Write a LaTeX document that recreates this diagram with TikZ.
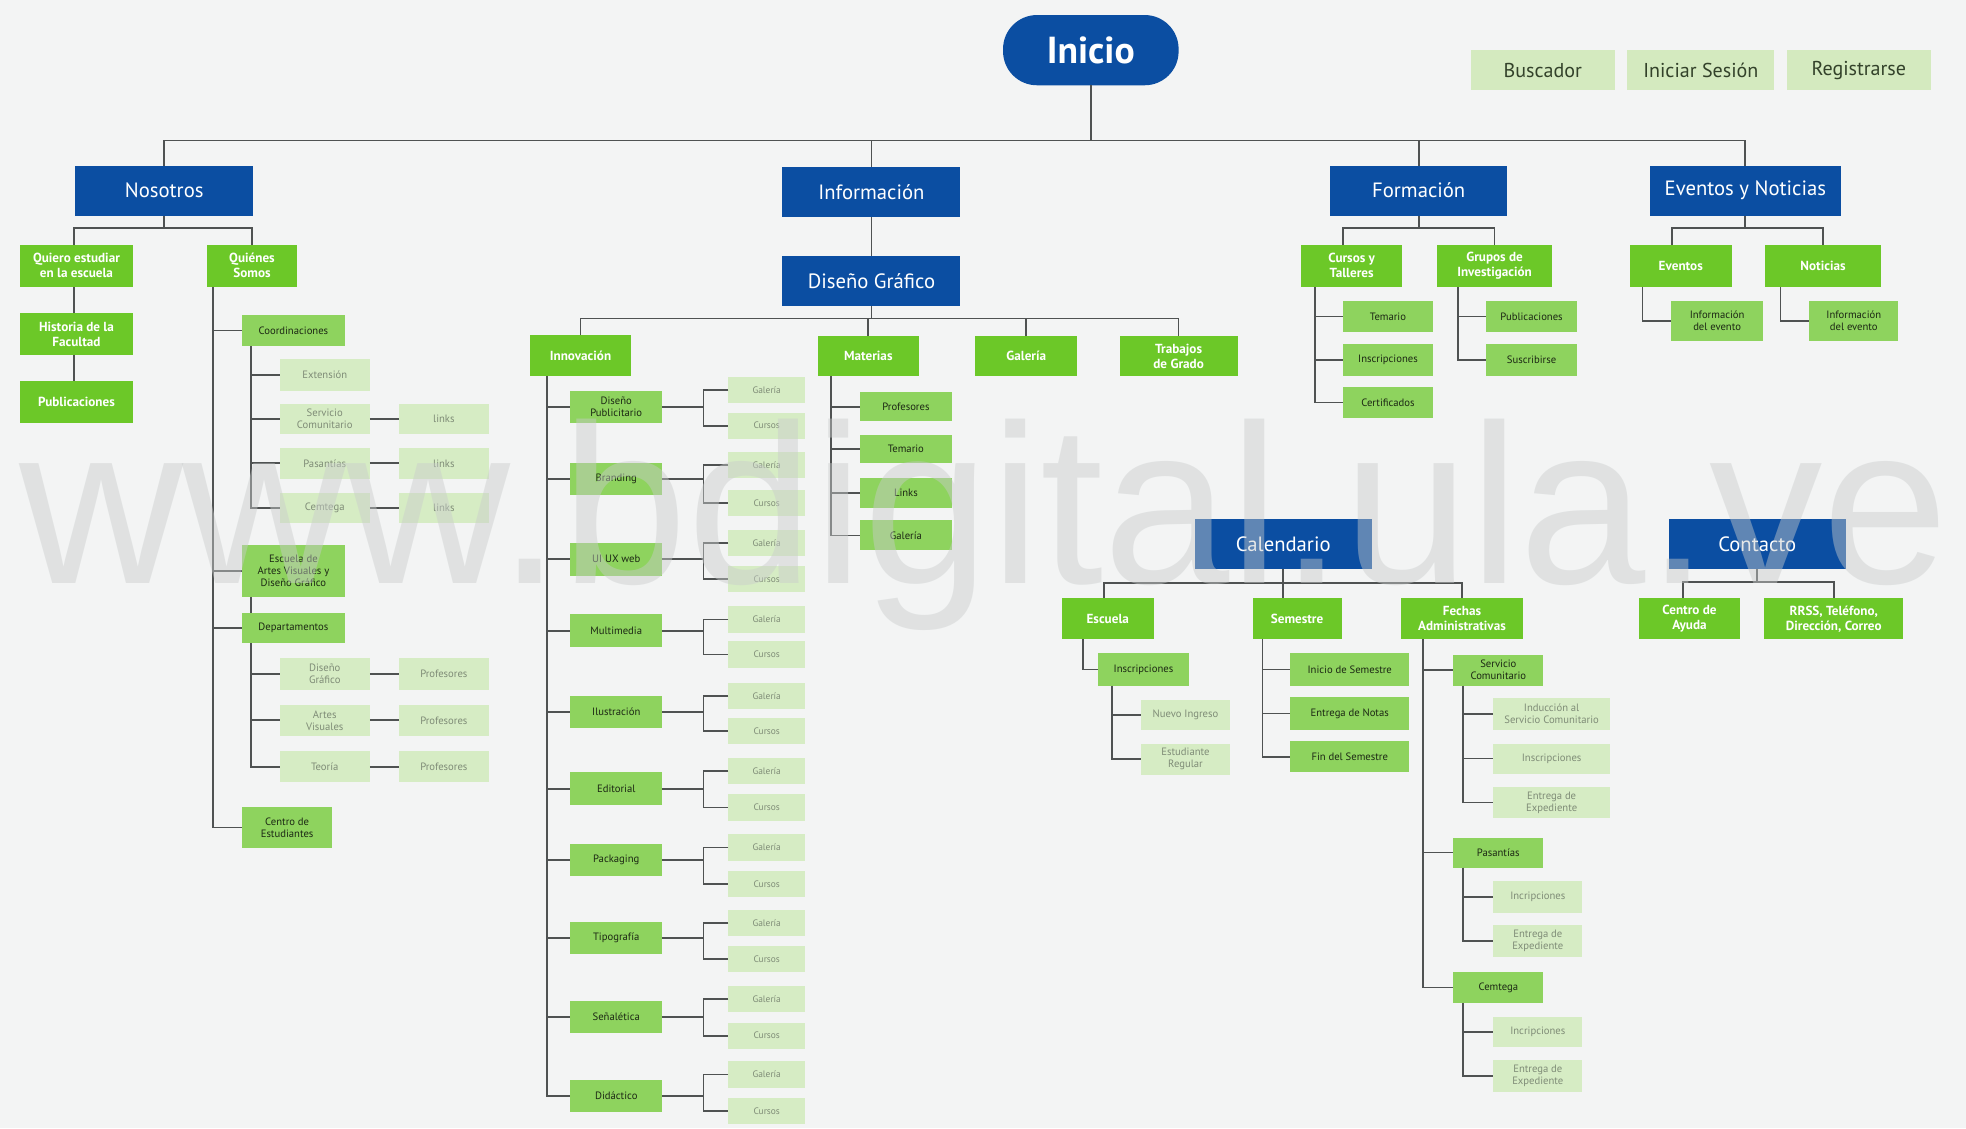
\documentclass[tikz,border=0pt]{standalone}
\usepackage{fontspec}
\setmainfont{PT Sans}
\newfontfamily\wmfont{Liberation Sans}
\definecolor{bgC}{HTML}{F3F4F4}
\definecolor{blueC}{HTML}{0B4EA2}
\definecolor{gAC}{HTML}{6CC828}
\definecolor{gBC}{HTML}{8ED35E}
\definecolor{gCC}{HTML}{D6ECC4}
\definecolor{txB}{HTML}{1C2814}
\definecolor{txC}{HTML}{7F8C77}
\definecolor{btnC}{HTML}{D4EABF}
\definecolor{btnT}{HTML}{33422A}
\definecolor{lineC}{HTML}{4F5252}
\definecolor{wmC}{HTML}{C9CCCC}
\newcommand{\mybox}[7]{\node[#2, minimum width={((#5)-(#3))*1pt}, minimum height={((#6)-(#4))*1pt}] (#1) at ({((#3)+(#5))/2},{((#4)+(#6))/2}) {#7};}
\tikzset{
  ln/.style={draw=lineC, line width=1.4pt},
  basebox/.style={inner sep=1pt, outer sep=0pt, align=center},
  bluebox/.style={basebox, fill=blueC, text=white, font=\fontsize{16.5}{18}\selectfont},
  gA/.style={basebox, fill=gAC, text=white, font=\bfseries\fontsize{10.5}{12}\selectfont},
  gB/.style={basebox, fill=gBC, text=txB, font=\fontsize{8.5}{9.5}\selectfont},
  gC/.style={basebox, fill=gCC, text=txC, font=\fontsize{8.5}{9.5}\selectfont},
  galbox/.style={basebox, fill=gCC, text=txC, font=\fontsize{7.5}{8.5}\selectfont},
  btnbox/.style={basebox, fill=btnC, text=btnT, font=\fontsize{16}{18}\selectfont},
}
\begin{document}
\begin{tikzpicture}[x=1pt,y=-1pt]
\fill[bgC] (0,0) rectangle (1568,900);
\useasboundingbox (0,0) rectangle (1568,900);

% top
\node[basebox, fill=blueC, text=white, rounded corners=27pt, minimum width=140pt, minimum height=56pt, font=\bfseries\fontsize{30}{32}\selectfont] (inicio) at (870,40) {Inicio};
\mybox{buscador}{btnbox}{1173}{40}{1288}{72}{Buscador}
\mybox{iniciar}{btnbox}{1298}{40}{1415}{72}{Iniciar Sesión}
\mybox{registrar}{btnbox}{1425}{40}{1540}{72}{Registrarse}

% level 1
\mybox{nosotros}{bluebox}{60}{132}{202}{172}{Nosotros}
\mybox{informacion}{bluebox}{624}{133}{766}{173}{Información}
\mybox{formacion}{bluebox}{1061}{132}{1202}{172}{Formación}
\mybox{eventos}{bluebox}{1316}{132}{1468}{172}{Eventos y Noticias}
\mybox{disenoG}{bluebox}{624}{204}{766}{244}{Diseño Gráfico}
\mybox{calendario}{bluebox}{953}{414}{1094}{454}{Calendario}
\mybox{contacto}{bluebox}{1331}{414}{1472}{454}{Contacto}

% Nosotros subtree
\mybox{quiero}{gA}{16}{195}{106}{229}{Quiero estudiar\\en la escuela}
\mybox{historia}{gA}{16}{250}{106}{283}{Historia de la\\Facultad}
\mybox{publicaciones}{gA}{16}{304}{106}{337}{Publicaciones}
\mybox{quienes}{gA}{165}{195}{237}{229}{Quiénes\\Somos}
\mybox{coord}{gB}{193}{251}{275}{276}{Coordinaciones}
\mybox{ext}{gC}{223}{286}{295}{312}{Extensión}
\mybox{servc}{gC}{223}{322}{295}{346}{Servicio\\Comunitario}
\mybox{pas}{gC}{223}{357}{295}{382}{Pasantías}
\mybox{cem}{gC}{223}{393}{295}{417}{Cemtega}
\mybox{linkA}{gC}{318}{322}{390}{346}{links}
\mybox{linkB}{gC}{318}{357}{390}{382}{links}
\mybox{linkC}{gC}{318}{393}{390}{417}{links}
\mybox{escAV}{gB}{193}{435}{275}{476}{Escuela de\\Artes Visuales y\\Diseño Gráfico}
\mybox{dep}{gB}{193}{489}{275}{513}{Departamentos}
\mybox{dgd}{gC}{223}{525}{295}{550}{Diseño\\Gráfico}
\mybox{avd}{gC}{223}{562}{295}{587}{Artes\\Visuales}
\mybox{teo}{gC}{223}{599}{295}{624}{Teoría}
\mybox{profA}{gC}{318}{525}{390}{550}{Profesores}
\mybox{profB}{gC}{318}{562}{390}{587}{Profesores}
\mybox{profC}{gC}{318}{599}{390}{624}{Profesores}
\mybox{centroE}{gB}{193}{644}{265}{676}{Centro de\\Estudiantes}

% Diseño Gráfico subtree
\mybox{innov}{gA}{423}{267}{503}{300}{Innovación}
\mybox{materias}{gA}{652}{268}{733}{300}{Materias}
\mybox{galeria}{gA}{778}{268}{859}{300}{Galería}
\mybox{trab}{gA}{893}{268}{987}{300}{Trabajos\\de Grado}
\mybox{mprof}{gB}{686}{313}{759}{336}{Profesores}
\mybox{mtem}{gB}{686}{347}{759}{369}{Temario}
\mybox{mlinks}{gB}{686}{381}{759}{405}{Links}
\mybox{mgal}{gB}{686}{415}{759}{439}{Galería}

% Formación subtree
\mybox{cursosT}{gA}{1038}{195}{1118}{229}{Cursos y\\Talleres}
\mybox{grupos}{gA}{1146}{195}{1238}{229}{Grupos de\\Investigación}
\mybox{ftem}{gB}{1071}{240}{1143}{265}{Temario}
\mybox{fins}{gB}{1071}{274}{1143}{300}{Inscripciones}
\mybox{fcert}{gB}{1071}{309}{1143}{333}{Certificados}
\mybox{gpub}{gB}{1185}{240}{1258}{265}{Publicaciones}
\mybox{gsus}{gB}{1185}{274}{1258}{300}{Suscribirse}

% Eventos subtree
\mybox{ev}{gA}{1300}{195}{1381}{229}{Eventos}
\mybox{noti}{gA}{1408}{195}{1500}{229}{Noticias}
\mybox{ievA}{gB}{1333}{240}{1406}{272}{Información\\del evento}
\mybox{ievB}{gB}{1443}{240}{1514}{272}{Información\\del evento}

% Calendario subtree
\mybox{escuela}{gA}{847}{477}{920}{510}{Escuela}
\mybox{semestre}{gA}{999}{477}{1070}{510}{Semestre}
\mybox{fechas}{gA}{1117}{477}{1215}{510}{Fechas\\Administrativas}
\mybox{inscE}{gB}{876}{521}{948}{547}{Inscripciones}
\mybox{nuevo}{gC}{910}{558}{981}{582}{Nuevo Ingreso}
\mybox{estud}{gC}{910}{593}{981}{618}{Estudiante\\Regular}
\mybox{inis}{gB}{1029}{521}{1124}{547}{Inicio de Semestre}
\mybox{entN}{gB}{1029}{556}{1124}{582}{Entrega de Notas}
\mybox{finS}{gB}{1029}{591}{1124}{616}{Fin del Semestre}
\mybox{servD}{gB}{1159}{522}{1231}{547}{Servicio\\Comunitario}
\mybox{ind}{gC}{1191}{557}{1284}{582}{Inducción al\\Servicio Comunitario}
\mybox{inscF}{gC}{1191}{593}{1284}{617}{Inscripciones}
\mybox{entrA}{gC}{1191}{628}{1284}{652}{Entrega de\\Expediente}
\mybox{pasD}{gB}{1159}{668}{1231}{692}{Pasantías}
\mybox{incrA}{gC}{1191}{703}{1262}{728}{Incripciones}
\mybox{entrB}{gC}{1191}{738}{1262}{763}{Entrega de\\Expediente}
\mybox{cemD}{gB}{1159}{775}{1231}{800}{Cemtega}
\mybox{incrB}{gC}{1191}{811}{1262}{835}{Incripciones}
\mybox{entrC}{gC}{1191}{845}{1262}{871}{Entrega de\\Expediente}

% Contacto subtree
\mybox{centroA}{gA}{1307}{477}{1388}{510}{Centro de\\Ayuda}
\mybox{rrss}{gA}{1407}{477}{1518}{510}{RRSS, Teléfono,\\Dirección, Correo}

% ---------- connectors ----------
\coordinate (mbus) at ([yshift=-44pt]inicio.south);
\draw[ln] (inicio.south) -- (mbus);
\draw[ln] (nosotros.north) |- (mbus) -| (eventos.north);
\draw[ln] (informacion.north) -- (informacion.north |- mbus);
\draw[ln] (formacion.north) -- (formacion.north |- mbus);

% Nosotros
\coordinate (nbus) at ([yshift=-10pt]nosotros.south);
\draw[ln] (nosotros.south) -- (nbus);
\draw[ln] ([xshift=-2pt]quiero.north) |- (nbus) -| (quienes.north);
\draw[ln] ([xshift=-2pt]quiero.south) -- ([xshift=-2pt]historia.north);
\draw[ln] ([xshift=-2pt]historia.south) -- ([xshift=-2pt]publicaciones.north);
\foreach \c in {coord,escAV,dep,centroE} \draw[ln] ([xshift=5pt]quienes.south west) |- (\c.west);
\foreach \c in {ext,servc,pas,cem} \draw[ln] ([xshift=7pt]coord.south west) |- (\c.west);
\draw[ln] (servc.east) -- (linkA.west);
\draw[ln] (pas.east) -- (linkB.west);
\draw[ln] (cem.east) -- (linkC.west);
\draw[ln] ([xshift=7pt]escAV.south west) -- ([xshift=7pt]dep.north west);
\foreach \c in {dgd,avd,teo} \draw[ln] ([xshift=7pt]dep.south west) |- (\c.west);
\draw[ln] (dgd.east) -- (profA.west);
\draw[ln] (avd.east) -- (profB.west);
\draw[ln] (teo.east) -- (profC.west);

% Información
\draw[ln] (informacion.south) -- (disenoG.north);
\coordinate (dbus) at ([yshift=-10pt]disenoG.south);
\draw[ln] (disenoG.south) -- (dbus);
\draw[ln] (innov.north) |- (dbus) -| (trab.north);
\draw[ln] (materias.north) -- (materias.north |- dbus);
\draw[ln] (galeria.north) -- (galeria.north |- dbus);
\foreach \c in {mprof,mtem,mlinks,mgal} \draw[ln] ([xshift=11pt]materias.south west) |- (\c.west);

% Innovación
\foreach \k/\t/\yc/\yg/\yk in {
  1/{Diseño\\Publicitario}/324.5/311/339.5,
  2/Branding/382/371/401,
  3/UI UX web/446/433/462,
  4/Multimedia/503/494/522,
  5/Ilustración/568/555/583,
  6/Editorial/629/615/644,
  7/Packaging/686/676/705,
  8/Tipografía/748/736/765,
  9/Señalética/811/797/826,
  10/Didáctico/874/857/886}{
  \mybox{i\k}{gB}{455}{\yc-13}{528}{\yc+13}{\t}
  \mybox{g\k}{galbox}{581}{\yg-10.5}{642}{\yg+10.5}{Galería}
  \mybox{c\k}{galbox}{581}{\yk-10.5}{642}{\yk+10.5}{Cursos}
  \draw[ln] ([xshift=13pt]innov.south west) |- (i\k.west);
  \draw[ln] (g\k.west) -- ++(-20,0) coordinate (j\k) |- (c\k.west);
  \draw[ln] (i\k.east) -- (i\k.east -| j\k);
}

% Formación
\coordinate (fbus) at ([yshift=-10pt]formacion.south);
\draw[ln] (formacion.south) -- (fbus);
\draw[ln] ([xshift=-7pt]cursosT.north) |- (fbus) -| (grupos.north);
\foreach \c in {ftem,fins,fcert} \draw[ln] ([xshift=11pt]cursosT.south west) |- (\c.west);
\foreach \c in {gpub,gsus} \draw[ln] ([xshift=17pt]grupos.south west) |- (\c.west);

% Eventos
\coordinate (ebus) at ([yshift=-10pt]eventos.south);
\draw[ln] (eventos.south) -- (ebus);
\draw[ln] ([xshift=-7pt]ev.north) |- (ebus) -| (noti.north);
\draw[ln] ([xshift=10pt]ev.south west) |- (ievA.west);
\draw[ln] ([xshift=12pt]noti.south west) |- (ievB.west);

% Calendario
\coordinate (cbus) at ([yshift=-11pt]calendario.south);
\draw[ln] (calendario.south) -- (calendario.south |- semestre.north);
\draw[ln] ([xshift=-3pt]escuela.north) |- (cbus) -| (fechas.north);
\draw[ln] ([xshift=17pt]escuela.south west) |- (inscE.west);
\foreach \c in {nuevo,estud} \draw[ln] ([xshift=11pt]inscE.south west) |- (\c.west);
\foreach \c in {inis,entN,finS} \draw[ln] ([xshift=8pt]semestre.south west) |- (\c.west);
\foreach \c in {servD,pasD,cemD} \draw[ln] ([xshift=18pt]fechas.south west) |- (\c.west);
\foreach \c in {ind,inscF,entrA} \draw[ln] ([xshift=8pt]servD.south west) |- (\c.west);
\foreach \c in {incrA,entrB} \draw[ln] ([xshift=8pt]pasD.south west) |- (\c.west);
\foreach \c in {incrB,entrC} \draw[ln] ([xshift=8pt]cemD.south west) |- (\c.west);

% Contacto
\coordinate (kbus) at ([yshift=-10pt]contacto.south);
\draw[ln] (contacto.south) -- (kbus);
\draw[ln] ([xshift=-5pt]centroA.north) |- (kbus) -| (rrss.north);

% watermark
\node[anchor=base west, inner sep=0pt, text=wmC, opacity=0.45, font=\wmfont\fontsize{181}{181}\selectfont] (wm) at (15,465) {www.bdigital.ula.ve};
\end{tikzpicture}
\end{document}
